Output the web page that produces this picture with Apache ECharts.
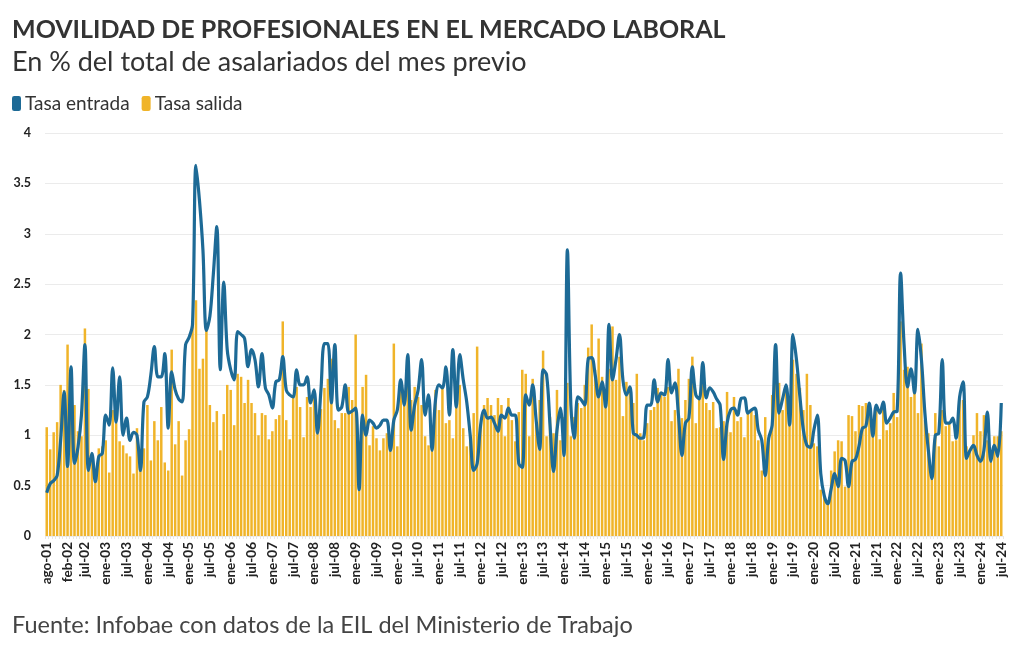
<!DOCTYPE html>
<html><head><meta charset="utf-8">
<script src="https://cdn.jsdelivr.net/npm/echarts@6/dist/echarts.min.js"></script>
<style>html,body{margin:0;padding:0;background:#fff}#c{width:1020px;height:650px}</style>
</head><body><div id="c"></div>
<script>
const monthNames = ['ene','feb','mar','abr','may','jun','jul','ago','sep','oct','nov','dic'];
const startYear = 2001, startMonth = 7, monthCount = 276;
const categories = [];
for (let k = 0; k < monthCount; k++) {
  const m = (startMonth + k) % 12;
  const y = startYear + Math.floor((startMonth + k) / 12);
  categories.push(monthNames[m] + '-' + String(y % 100).padStart(2, '0'));
}
const yTicks = [0, 0.5, 1, 1.5, 2, 2.5, 3, 3.5, 4];

const tasaSalida = [
1.08,0.86,1.03,1.13,1.50,1.45,1.90,1.30,1.30,1.04,
0.99,2.06,1.46,0.82,0.65,0.87,0.89,0.95,0.63,1.25,
1.12,0.94,0.90,0.82,0.79,0.62,1.07,0.65,0.87,1.30,
0.75,1.14,0.95,1.28,0.73,0.65,1.85,0.91,1.14,0.60,
0.95,1.06,2.08,2.34,1.66,1.76,2.04,1.30,1.13,1.24,
0.85,1.21,1.50,1.45,1.10,1.61,1.58,1.32,1.55,1.32,
1.22,1.00,1.22,1.20,0.96,1.04,1.16,1.20,2.13,
1.15,0.96,1.38,1.48,1.28,0.98,1.38,1.28,1.45,1.14,
1.26,1.47,1.56,1.76,1.15,1.07,1.22,1.22,1.48,1.35,
2.00,0.94,1.48,1.60,0.90,1.09,0.97,0.85,0.97,1.02,
0.89,1.91,0.89,1.45,1.35,1.55,1.35,1.48,1.38,1.30,
0.99,0.90,1.02,1.45,1.25,1.47,1.12,1.15,0.97,1.35,
1.50,1.07,0.89,0.94,1.22,1.88,1.09,1.30,1.37,1.30,
1.20,1.37,1.30,0.99,1.37,1.15,0.94,1.23,1.65,
1.61,0.99,1.56,1.12,1.35,1.84,0.99,1.18,1.02,1.45,
0.95,1.18,1.52,0.99,1.18,1.32,1.27,1.50,1.87,2.10,
1.65,1.96,1.58,1.38,1.66,2.08,1.55,1.78,1.19,1.53,
1.48,1.32,1.61,1.02,0.95,1.12,1.25,1.28,1.47,1.42,
1.38,1.48,1.14,1.25,1.66,1.17,1.35,1.56,1.78,1.12,
1.38,1.65,1.32,1.25,1.33,1.07,1.08,1.14,1.43,1.03,
1.38,1.14,1.18,0.98,1.22,1.25,1.20,0.95,0.65,
1.18,0.95,1.40,1.63,1.52,1.25,1.48,1.32,1.75,1.61,
1.47,1.25,1.61,1.30,0.92,0.89,0.46,0.39,0.33,0.65,
0.84,0.95,0.94,0.49,1.20,1.19,1.04,1.30,1.29,1.32,
1.30,1.12,1.30,0.96,1.28,1.05,1.12,1.42,1.18,2.13,
1.65,1.68,1.38,1.42,1.22,1.91,1.15,1.02,0.69,1.22,
0.89,1.25,1.09,1.12,0.94,0.95,1.35,1.35,0.89,0.85,
1.00,1.22,1.04,1.20,0.95,0.85,0.99,0.99,1.04
];

const tasaEntrada = [
0.43,0.52,0.55,0.60,0.95,1.43,0.69,1.68,0.72,0.88,
1.20,1.90,0.65,0.82,0.54,0.79,0.82,1.20,1.10,1.67,
1.13,1.58,1.00,1.17,0.95,1.03,1.00,0.65,1.33,1.38,
1.60,1.88,1.58,1.58,1.81,1.07,1.63,1.45,1.36,1.33,
1.90,1.97,2.10,3.68,3.33,2.84,2.04,2.18,2.60,3.07,
1.65,2.52,1.85,1.65,1.55,2.03,2.00,1.96,1.68,1.85,
1.75,1.48,1.81,1.47,1.40,1.27,1.53,1.55,1.78,1.45,
1.40,1.38,1.65,1.50,1.50,1.58,1.32,1.45,1.02,1.45,
1.91,1.91,1.32,1.90,1.25,1.28,1.50,1.22,1.24,1.27,
0.46,1.20,1.00,1.15,1.12,1.07,1.10,1.15,1.15,0.85,
1.15,1.25,1.55,1.30,1.80,1.05,1.30,1.45,1.75,1.20,
1.40,0.85,1.35,1.50,1.47,1.68,1.20,1.85,1.28,1.80,
1.55,1.33,1.00,0.65,0.72,1.10,1.25,1.17,1.18,1.12,
1.04,1.20,1.17,1.27,1.20,1.20,0.72,0.68,1.40,1.30,
1.50,1.15,0.86,1.65,1.60,1.10,0.64,1.05,1.27,0.80,
2.84,1.30,0.97,1.38,1.35,1.30,1.76,1.77,1.60,1.38,
1.53,1.28,2.10,1.55,1.75,2.00,1.55,1.40,1.48,1.02,
1.00,0.97,0.98,1.30,1.30,1.55,1.33,1.42,1.40,1.75,
1.42,1.52,1.20,0.80,1.12,1.17,1.68,1.40,1.36,1.72,
1.37,1.47,1.43,1.36,1.30,0.76,1.12,1.25,1.27,1.20,
1.36,1.37,1.22,1.25,1.27,1.05,0.95,0.60,0.97,1.10,
1.90,1.22,1.36,1.50,1.10,2.00,1.75,1.38,1.05,0.90,
0.88,1.05,1.20,0.62,0.40,0.32,0.47,0.62,0.49,0.77,
0.75,0.49,0.74,0.76,0.89,1.07,1.09,1.32,0.99,1.30,
1.22,1.33,1.12,1.17,1.23,1.24,2.61,1.90,1.48,1.66,
1.42,2.05,1.75,1.22,0.85,0.57,1.00,1.02,1.75,1.12,
1.12,1.17,0.97,1.38,1.53,0.77,0.85,0.90,0.80,0.74,
0.85,1.23,0.74,0.90,0.79,1.32
];

const FONT = 'Lato, "Noto Sans", sans-serif';
const chart = echarts.init(document.getElementById('c'), null, {renderer: 'canvas'});
chart.setOption({
  animation: false,
  backgroundColor: '#fff',
  title: [
    {text: 'MOVILIDAD DE PROFESIONALES EN EL MERCADO LABORAL', left: 7, top: 12,
     textStyle: {fontFamily: FONT, fontSize: 25, fontWeight: 'bold', color: '#333'}},
    {text: 'En % del total de asalariados del mes previo', left: 7, top: 44,
     textStyle: {fontFamily: FONT, fontSize: 27, fontWeight: 'normal', color: '#333'}},
    {text: 'Fuente: Infobae con datos de la EIL del Ministerio de Trabajo', left: 7, top: 608,
     textStyle: {fontFamily: FONT, fontSize: 23.5, fontWeight: 'normal', color: '#444'}}
  ],
  legend: {
    data: ['Tasa entrada', 'Tasa salida'],
    left: 7, top: 89, itemWidth: 9, itemHeight: 15, itemGap: 12,
    icon: 'roundRect',
    textStyle: {fontFamily: FONT, fontSize: 19, color: '#333', padding: [0,0,0,-1]}
  },
  grid: {left: 45, right: 17, top: 133, bottom: 114, containLabel: false},
  xAxis: {
    type: 'category', data: categories, boundaryGap: true,
    axisLine: {show: false},
    axisTick: {show: true, interval: 0, length: 3, lineStyle: {color: '#e6e6e6'}},
    axisLabel: {
      rotate: 90, margin: 6, fontFamily: FONT, fontSize: 13.5, fontWeight: 'bold', color: '#222',
      interval: function (i) { return i === 0 || i === 6 || (i >= 11 && (i - 11) % 6 === 0); }
    }
  },
  yAxis: {
    type: 'value', min: yTicks[0], max: yTicks[yTicks.length - 1], interval: 0.5,
    axisLine: {show: false}, axisTick: {show: false},
    splitLine: {lineStyle: {color: '#ebebeb', width: 1}},
    axisLabel: {margin: 14, fontFamily: FONT, fontSize: 12.5, fontWeight: 'bold', color: '#222'}
  },
  series: [
    {name: 'Tasa salida', type: 'bar', data: tasaSalida, barCategoryGap: '28%',
     itemStyle: {color: '#f0b429'}, z: 1},
    {name: 'Tasa entrada', type: 'line', data: tasaEntrada, smooth: 0.35,
     showSymbol: false, symbol: 'none',
     lineStyle: {color: '#1d6a96', width: 3.2}, itemStyle: {color: '#1d6a96'}, z: 3}
  ]
});
</script>
</body></html>
